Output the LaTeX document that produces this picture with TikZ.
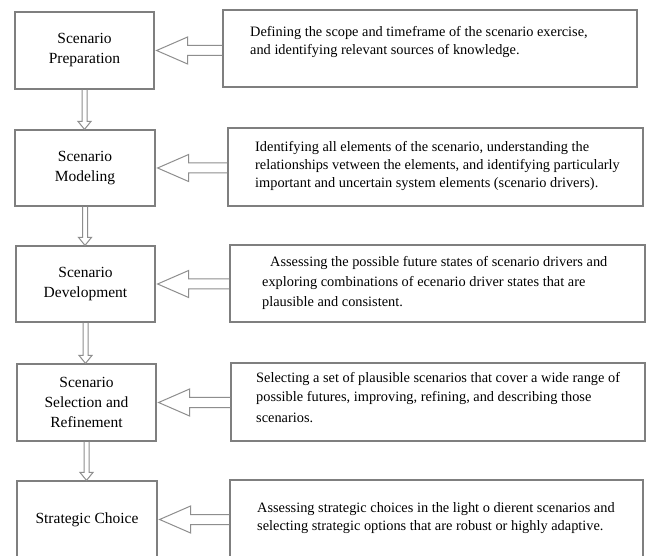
\documentclass[tikz,border=0pt]{standalone}
\usepackage{fontspec}
\setmainfont{Liberation Serif}
\usetikzlibrary{calc}
\definecolor{boxgray}{HTML}{7F7F7F}
\definecolor{arrgray}{HTML}{8E8E8E}
\tikzset{
  lbox/.style={draw=boxgray, line width=1.2pt, inner sep=0pt, align=center,
    font=\fontsize{15.5}{20}\selectfont},
  rbox/.style={draw=boxgray, line width=1.2pt, inner sep=0pt},
  dline/.style={anchor=base west, inner sep=0pt, font=\fontsize{14.35}{18}\selectfont},
  barrow/.style={draw=arrgray, line width=1pt, line join=miter},
}
\newcommand{\myblockarrow}[2]{%
  \draw[barrow] ($(#2.west|-#1.east)+(0,-5)$) -- ($(#1.east)+(33,-5)$)
    -- ($(#1.east)+(33,-13.5)$) -- ($(#1.east)+(2,0)$)
    -- ($(#1.east)+(33,13.5)$) -- ($(#1.east)+(33,5)$)
    -- ($(#2.west|-#1.east)+(0,5)$);}
\newcommand{\mydownarrow}[2]{%
  \draw[barrow] ($(#1.south)+(-2.5,0)$) -- ($(#1.south|-#2.north)+(-2.5,-8)$)
    -- ($(#1.south|-#2.north)+(-6.5,-8)$) -- (#1.south|-#2.north)
    -- ($(#1.south|-#2.north)+(6.5,-8)$) -- ($(#1.south|-#2.north)+(2.5,-8)$)
    -- ($(#1.south)+(2.5,0)$);}
\begin{document}
\begin{tikzpicture}[x=1pt,y=-1pt]
\useasboundingbox[fill=white] (0,0) rectangle (646,556);
\clip (0,0) rectangle (646,556);
% left boxes
\node[lbox, minimum width=139pt, minimum height=77pt] (s1) at (84.5,50.5) {Scenario\\Preparation};
\node[lbox, minimum width=140pt, minimum height=76pt] (s2) at (85,168) {Scenario\\Modeling};
\node[lbox, minimum width=139pt, minimum height=76pt] (s3) at (85.5,284) {Scenario\\Development};
\node[lbox, minimum width=139pt, minimum height=77pt] (s4) at (86.5,402.5) {Scenario\\Selection and\\Refinement};
\node[lbox, minimum width=140pt, minimum height=77pt] (s5) at (87,519.5) {Strategic Choice};
% right boxes
\node[rbox, minimum width=414pt, minimum height=77pt] (r1) at (430,48.5) {};
\node[rbox, minimum width=415pt, minimum height=78pt] (r2) at (435.5,167) {};
\node[rbox, minimum width=415pt, minimum height=77pt] (r3) at (437.5,283.5) {};
\node[rbox, minimum width=414pt, minimum height=78pt] (r4) at (438,402) {};
\node[rbox, minimum width=413pt, minimum height=78pt] (r5) at (436.5,519) {};
% descriptions
\node[dline] (d1a) at (250,37) {Defining the scope and timeframe of the scenario exercise,};
\node[dline] (d1b) at (250,55) {and identifying relevant sources of knowledge.};
\node[dline] (d2a) at (255,152) {Identifying all elements of the scenario, understanding the};
\node[dline] (d2b) at (255,170) {relationships vetween the elements, and identifying particularly};
\node[dline] (d2c) at (255,188) {important and uncertain system elements (scenario drivers).};
\node[dline] (d3a) at (270,267) {Assessing the possible future states of scenario drivers and};
\node[dline] (d3b) at (262,287) {exploring combinations of ecenario driver states that are};
\node[dline] (d3c) at (262,307) {plausible and consistent.};
\node[dline] (d4a) at (256,382) {Selecting a set of plausible scenarios that cover a wide range of};
\node[dline] (d4b) at (256,402) {possible futures, improving, refining, and describing those};
\node[dline] (d4c) at (256,422) {scenarios.};
\node[dline] (d5a) at (257,512) {Assessing strategic choices in the light o dierent scenarios and};
\node[dline] (d5b) at (257,530) {selecting strategic options that are robust or highly adaptive.};
% block arrows
\myblockarrow{s1}{r1}
\myblockarrow{s2}{r2}
\myblockarrow{s3}{r3}
\myblockarrow{s4}{r4}
\myblockarrow{s5}{r5}
% down arrows
\mydownarrow{s1}{s2}
\mydownarrow{s2}{s3}
\mydownarrow{s3}{s4}
\mydownarrow{s4}{s5}
\end{tikzpicture}
\end{document}
